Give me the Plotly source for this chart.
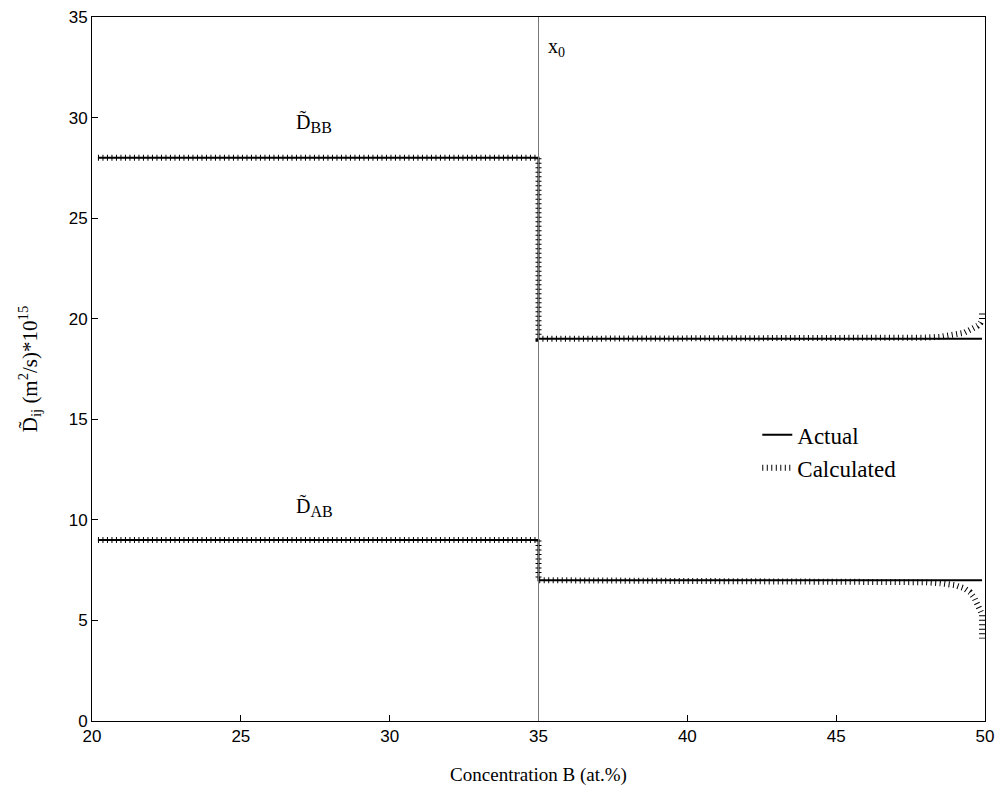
import plotly.graph_objects as go

# Actual diffusivities (step profiles)
x_actual = [20.2, 35, 35, 49.9]
dbb_actual = [28, 28, 19, 19]
dab_actual = [9, 9, 7, 7]

# Calculated diffusivities
x_calc = [20.2, 35, 35, 45, 47, 48, 48.5, 49, 49.3, 49.5, 49.65, 49.75, 49.85, 49.9, 49.9]
dbb_calc = [28, 28, 19, 19, 19.03, 19.06, 19.1, 19.2, 19.3, 19.45, 19.55, 19.65, 19.8, 19.95, 20.3]
dab_calc = [9, 9, 7, 6.98, 6.95, 6.9, 6.85, 6.75, 6.6, 6.4, 6.1, 5.8, 5.5, 5.3, 4.1]

x0 = 35
x_ticks = [20, 25, 30, 35, 40, 45, 50]
y_ticks = [0, 5, 10, 15, 20, 25, 30, 35]

serif = "Liberation Serif, Times New Roman, serif"
sans = "Liberation Sans, Arial, sans-serif"

fig = go.Figure()

calc_line = dict(color="black", width=6, dash="1px,3.5px")
act_line = dict(color="black", width=2)

fig.add_trace(go.Scatter(x=x_actual, y=dbb_actual, mode="lines", line=act_line,
                         name="Actual", showlegend=True))
fig.add_trace(go.Scatter(x=x_calc, y=dbb_calc, mode="lines", line=calc_line,
                         name="Calculated", showlegend=True))
fig.add_trace(go.Scatter(x=x_actual, y=dab_actual, mode="lines", line=act_line,
                         name="Actual", showlegend=False))
fig.add_trace(go.Scatter(x=x_calc, y=dab_calc, mode="lines", line=calc_line,
                         name="Calculated", showlegend=False))

fig.add_shape(type="line", x0=x0, x1=x0, xref="x", y0=0, y1=1, yref="paper",
              line=dict(color="#777777", width=1))

fig.add_annotation(x=35.25, y=33.5, xref="x", yref="y", text="x<sub>0</sub>",
                   showarrow=False, xanchor="left", yanchor="middle",
                   font=dict(family=serif, size=20, color="black"))
fig.add_annotation(x=26.8, y=29.0, xref="x", yref="y",
                   text="D\u0303<sub><span style='font-size:16px'>BB</span></sub>",
                   showarrow=False, xanchor="left", yanchor="bottom",
                   font=dict(family=serif, size=20, color="black"))
fig.add_annotation(x=26.8, y=9.9, xref="x", yref="y",
                   text="D\u0303<sub><span style='font-size:16px'>AB</span></sub>",
                   showarrow=False, xanchor="left", yanchor="bottom",
                   font=dict(family=serif, size=20, color="black"))

axis_common = dict(showgrid=False, zeroline=False, showline=True, linecolor="black",
                   linewidth=1, mirror=True, ticks="inside", ticklen=6,
                   tickcolor="black", automargin=False, ticklabeloverflow="allow",
                   tickfont=dict(family=sans, size=17, color="black"))

fig.update_xaxes(range=[20, 50], tickvals=x_ticks, **axis_common,
                 title=dict(text="Concentration B (at.%)",
                            font=dict(family=serif, size=19, color="black"), standoff=22))
fig.update_yaxes(range=[0, 35], tickvals=y_ticks, **axis_common,
                 title=dict(text="D\u0303<sub>ij</sub> (m<sup>2</sup>/s)*10<sup>15</sup>",
                            font=dict(family=serif, size=21, color="black"), standoff=25))

fig.update_layout(
    width=998, height=788,
    margin=dict(l=92, r=13, t=17, b=67, autoexpand=False),
    plot_bgcolor="white", paper_bgcolor="white",
    legend=dict(x=0.745, y=0.437, xanchor="left", yanchor="top",
                bgcolor="rgba(0,0,0,0)", font=dict(family=serif, size=23, color="black"),
                tracegroupgap=0, itemwidth=30),
)

fig.write_html("out.html",
               config={"displayModeBar": False},
               post_script="document.body.style.margin='0';document.documentElement.style.overflow='hidden';")
